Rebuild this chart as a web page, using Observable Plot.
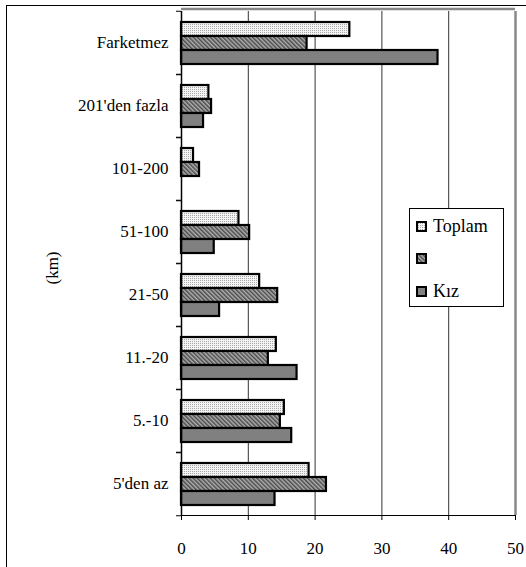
<!DOCTYPE html>
<html>
<head>
<meta charset="utf-8">
<script src="https://cdn.jsdelivr.net/npm/d3@7"></script>
<script src="https://cdn.jsdelivr.net/npm/@observablehq/plot@0.6"></script>
<style>
  html, body { margin: 0; padding: 0; background: white; overflow: hidden; }
  #wrap { position: relative; width: 526px; height: 567px; overflow: hidden; font-family: "Liberation Serif", "Times New Roman", serif; }
  #frame { position: absolute; left: 6px; top: 5px; width: 540px; height: 580px; border: 1.5px solid black; pointer-events: none; box-sizing: border-box; }
  #ytitle { position: absolute; left: 53px; top: 268px; transform: translate(-50%, -50%) rotate(-90deg); font-size: 17px; white-space: nowrap; }
  #legend { position: absolute; left: 409px; top: 208px; width: 95px; height: 99px; border: 1px solid black; background: white; box-sizing: border-box; }
  .item { position: absolute; left: 6px; display: flex; align-items: center; font-size: 18px; height: 20px; }
  .item svg { margin-right: 6px; }
</style>
</head>
<body>
<div id="wrap">
  <div id="chart"></div>
  <div id="ytitle">(km)</div>
  <div id="legend"></div>
  <div id="frame"></div>
</div>
<script>
// ---- data ----
const categories = ["Farketmez", "201'den fazla", "101-200", "51-100", "21-50", "11.-20", "5.-10", "5'den az"];
const seriesKeys = ["Toplam", "Erkek", "Kız"];
const legendLabels = ["Toplam", "", "Kız"];
const toplam = [25.2, 4.1, 1.8, 8.6, 11.7, 14.2, 15.4, 19.1];
const erkek  = [18.8, 4.5, 2.7, 10.2, 14.4, 13.0, 14.8, 21.7];
const kiz    = [38.4, 3.3, 0, 4.9, 5.7, 17.3, 16.5, 14.0];
const xTicks = [0, 10, 20, 30, 40, 50];
const gridTicks = [10, 20, 30, 40];

const patternUrls = ["url(#pDots)", "url(#pHatch)", "url(#pSolid)"];
const seriesValues = [toplam, erkek, kiz];

const rows = [];
categories.forEach((c, i) => {
  seriesKeys.forEach((s, j) => {
    rows.push({category: c, series: s, value: seriesValues[j][i]});
  });
});

const chart = Plot.plot({
  width: 526,
  height: 567,
  marginTop: 9,
  marginBottom: 50,
  marginLeft: 181,
  marginRight: 11,
  style: {fontFamily: "'Liberation Serif', 'Times New Roman', serif", fontSize: "17px", color: "black", background: "white", overflow: "visible"},
  x: {domain: [0, 50], ticks: xTicks, tickSize: 5, tickPadding: 21, line: true, label: null},
  fy: {domain: categories, padding: 0},
  y: {domain: seriesKeys, paddingInner: 0, paddingOuter: 0.73, axis: null},
  color: {domain: seriesKeys, range: patternUrls},
  marks: [
    Plot.ruleX(gridTicks, {stroke: "#333", strokeWidth: 1}),
    Plot.ruleX([50], {stroke: "#888", strokeWidth: 2.5}),
    Plot.barX(rows, {fy: "category", y: "series", x: "value", fill: "series", stroke: "black", strokeWidth: 2.2, filter: d => d.value > 0}),
    Plot.ruleX([0], {stroke: "black", strokeWidth: 1.5}),
    Plot.axisFy({anchor: "left", tickSize: 0, tickPadding: 13, label: null}),
    Plot.axisFy({anchor: "left", tickSize: 5, tickFormat: () => "", dy: -31.75, label: null}),
    Plot.axisFy({anchor: "left", tickSize: 5, tickFormat: () => "", dy: 31.75, label: null})
  ]
});

document.getElementById("chart").appendChild(chart);

// pattern definitions
const svg = d3.select(chart.tagName.toLowerCase() === "svg" ? chart : chart.querySelector("svg"));
const defs = svg.insert("defs", ":first-child");
const dots = defs.append("pattern").attr("id", "pDots").attr("patternUnits", "userSpaceOnUse").attr("width", 2).attr("height", 2);
dots.append("rect").attr("width", 2).attr("height", 2).attr("fill", "#f4f4f4");
dots.append("rect").attr("width", 1).attr("height", 1).attr("fill", "#a8a8a8");
const hatch = defs.append("pattern").attr("id", "pHatch").attr("patternUnits", "userSpaceOnUse").attr("width", 3).attr("height", 3).attr("patternTransform", "rotate(-45)");
hatch.append("rect").attr("width", 3).attr("height", 3).attr("fill", "#b0b0b0");
hatch.append("rect").attr("width", 1.5).attr("height", 3).attr("fill", "#4a4a4a");
const solid = defs.append("pattern").attr("id", "pSolid").attr("patternUnits", "userSpaceOnUse").attr("width", 4).attr("height", 4);
solid.append("rect").attr("width", 4).attr("height", 4).attr("fill", "#808080");

// top plot border
const xs = chart.scale("x");
svg.append("line")
  .attr("x1", xs.apply(0)).attr("x2", xs.apply(50))
  .attr("y1", 9).attr("y2", 9)
  .attr("stroke", "#888").attr("stroke-width", 2.5);

// legend
const legend = document.getElementById("legend");
const tops = [7, 39, 72];
legendLabels.forEach((lab, i) => {
  const it = document.createElement("div");
  it.className = "item";
  it.style.top = tops[i] + "px";
  it.innerHTML = `<svg width="11" height="11"><rect x="1" y="1" width="9" height="9" fill="${patternUrls[i]}" stroke="black" stroke-width="2"/></svg><span>${lab}</span>`;
  legend.appendChild(it);
});
</script>
</body>
</html>
